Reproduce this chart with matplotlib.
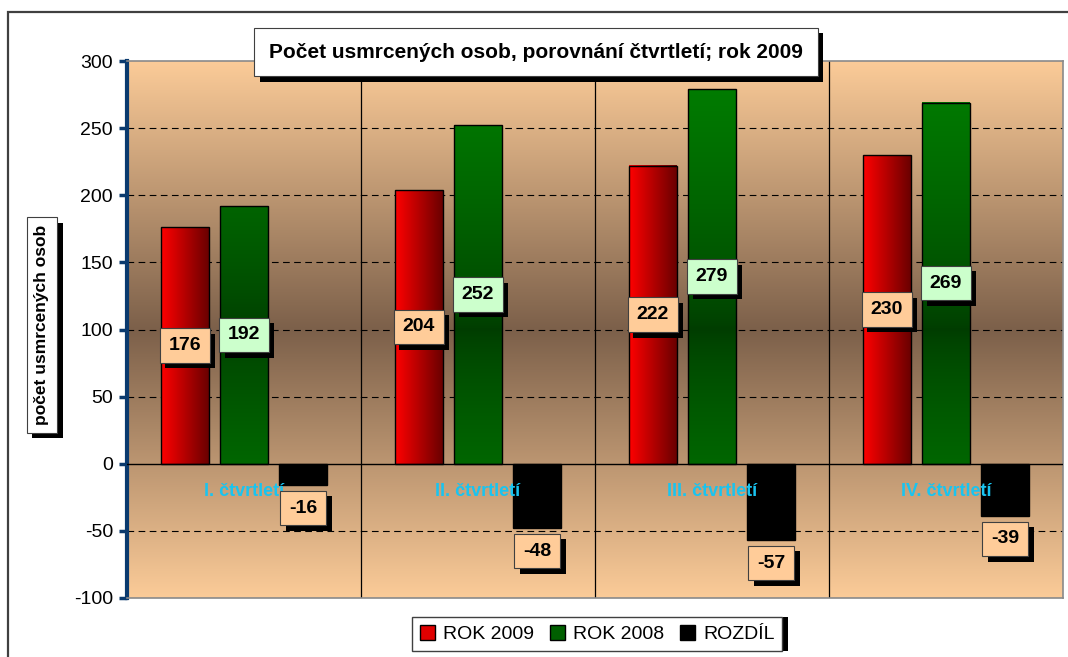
import numpy as np
import matplotlib
matplotlib.use("Agg")
import matplotlib.pyplot as plt
from matplotlib.patches import Rectangle, Patch
from matplotlib.colors import to_rgb
import matplotlib.patheffects as pe

plt.rcParams["axes.unicode_minus"] = False

# data
quarters = ["I. čtvrtletí", "II. čtvrtletí", "III. čtvrtletí", "IV. čtvrtletí"]
rok_2009 = [176, 204, 222, 230]
rok_2008 = [192, 252, 279, 269]
rozdil = [-16, -48, -57, -39]

title = "Počet usmrcených osob, porovnání čtvrtletí; rok 2009"
ylabel = "počet usmrcených osob"
series_names = ["ROK 2009", "ROK 2008", "ROZDÍL"]

FAM = ["Liberation Sans", "DejaVu Sans"]

fig = plt.figure(figsize=(10.68, 6.57), dpi=100)
fig.patch.set_facecolor("white")
ax = fig.add_axes([127/1068, 1-598/657, (1063-127)/1068, (598-61)/657])

ymin, ymax = -100, 300
ymid = (ymin + ymax) / 2


def lerp_col(c0, c1, t):
    c0, c1 = np.array(to_rgb(c0)), np.array(to_rgb(c1))
    return c0[None, :] * (1 - t[:, None]) + c1[None, :] * t[:, None]


def vgrad(y0, y1, dark, light, n=200, gamma=1.0):
    ys = np.linspace(y1, y0, n)  # top row first
    t = np.clip(np.abs(ys - ymid) / (ymax - ymid), 0, 1) ** gamma
    return lerp_col(dark, light, t)[:, None, :]


# background
bg = vgrad(ymin, ymax, "#7c604a", "#fbcb98")
ax.imshow(bg, extent=(-0.5, 3.5, ymin, ymax), aspect="auto", zorder=0)

x = np.arange(len(quarters))
w = 0.205
off = 0.253

# red bars, horizontal gradient
reds = ax.bar(x - off, rok_2009, w, color="none", edgecolor="black", lw=1, zorder=3)
hg = lerp_col("#ff0000", "#6a0000", np.linspace(0, 1, 100))[None, :, :]
for b in reds:
    ax.imshow(hg, extent=(b.get_x(), b.get_x() + b.get_width(), 0, b.get_height()),
              aspect="auto", zorder=2.5)

# green bars, vertical gradient like the background
greens = ax.bar(x, rok_2008, w, color="none", edgecolor="black", lw=1, zorder=3)
for b in greens:
    g = vgrad(0, b.get_height(), "#003c00", "#008000", gamma=0.7)
    ax.imshow(g, extent=(b.get_x(), b.get_x() + b.get_width(), 0, b.get_height()),
              aspect="auto", zorder=2.5)

blacks = ax.bar(x + off, rozdil, w, color="black", edgecolor="black", lw=1, zorder=3)

shadow = [pe.SimplePatchShadow(offset=(4, -4), shadow_rgbFace="black", alpha=1), pe.Normal()]


def boxed(target, xx, yy, s, trans, fc, size, rot=0, pad=0.4):
    t = target.text(xx, yy, s, transform=trans, ha="center", va="center", fontsize=size,
                    fontweight="bold", family=FAM, rotation=rot, color="black", zorder=6,
                    bbox=dict(boxstyle=f"square,pad={pad}", fc=fc, ec="#404040", lw=0.8))
    t.get_bbox_patch().set_path_effects(shadow)
    return t


for i in range(len(quarters)):
    boxed(ax, x[i] - off, rok_2009[i] / 2, str(rok_2009[i]), ax.transData, "#ffcc99", 14, pad=0.45)
    boxed(ax, x[i], rok_2008[i] / 2, str(rok_2008[i]), ax.transData, "#ccffcc", 14, pad=0.45)
    boxed(ax, x[i] + off, rozdil[i] - 17, str(rozdil[i]), ax.transData, "#ffcc99", 14, pad=0.45)
    ax.text(x[i], -21, quarters[i], ha="center", va="center", color="#19c4f0",
            fontsize=13, fontweight="bold", family=FAM, zorder=4)

# grid, dividers
for v in [250, 200, 150, 100, 50, -50]:
    ax.axhline(v, color="black", lw=0.8, ls=(0, (6, 4)), zorder=1)
ax.axhline(0, color="black", lw=1, zorder=3.5)
for d in [0.5, 1.5, 2.5]:
    ax.axvline(d, color="black", lw=0.9, zorder=1)

ax.set_xlim(-0.5, 3.5)
ax.set_ylim(ymin, ymax)
ax.set_yticks(np.arange(-100, 301, 50))
ax.set_xticks([])
ax.tick_params(axis="y", direction="out", length=6, width=2.5, color="#0a3a6e",
               labelsize=14, pad=4)
for lab in ax.get_yticklabels():
    lab.set_family(FAM)
for s in ["top", "bottom", "right"]:
    ax.spines[s].set_color("#8a8a8a")
    ax.spines[s].set_linewidth(1.2)
ax.spines["left"].set_color("#0a3a6e")
ax.spines["left"].set_linewidth(3)

# outer border (right and bottom sides fall outside the picture)
fig.patches.append(Rectangle((8/1068, -0.5), 2.0, 1.5 - 12/657, transform=fig.transFigure,
                             fill=False, ec="#404040", lw=1.6, zorder=0))

# title and y label boxes
boxed(fig, 536/1068, 1-52/657, title, fig.transFigure, "white", 15, pad=0.7)
boxed(fig, 42/1068, 1-325/657, ylabel, fig.transFigure, "white", 12.5, rot=90, pad=0.45)

# legend
handles = [Patch(fc="#e00000", ec="black"), Patch(fc="#006000", ec="black"),
           Patch(fc="black", ec="black")]
leg = fig.legend(handles, series_names, loc="upper left", bbox_to_anchor=(412/1068, 1-617/657),
                 ncol=3, frameon=True, fancybox=False, shadow=False, framealpha=1,
                 prop={"family": FAM, "size": 14}, handlelength=0.8, handleheight=0.8,
                 handletextpad=0.4, columnspacing=0.8, borderpad=0.4, borderaxespad=0)
leg.get_frame().set_edgecolor("#404040")
leg.get_frame().set_facecolor("white")
leg.get_frame().set_linewidth(1)
leg.legendPatch.set_path_effects([pe.SimplePatchShadow(offset=(4, 0), shadow_rgbFace="black",
                                                       alpha=1), pe.Normal()])

fig.savefig("out.png", dpi=100)
